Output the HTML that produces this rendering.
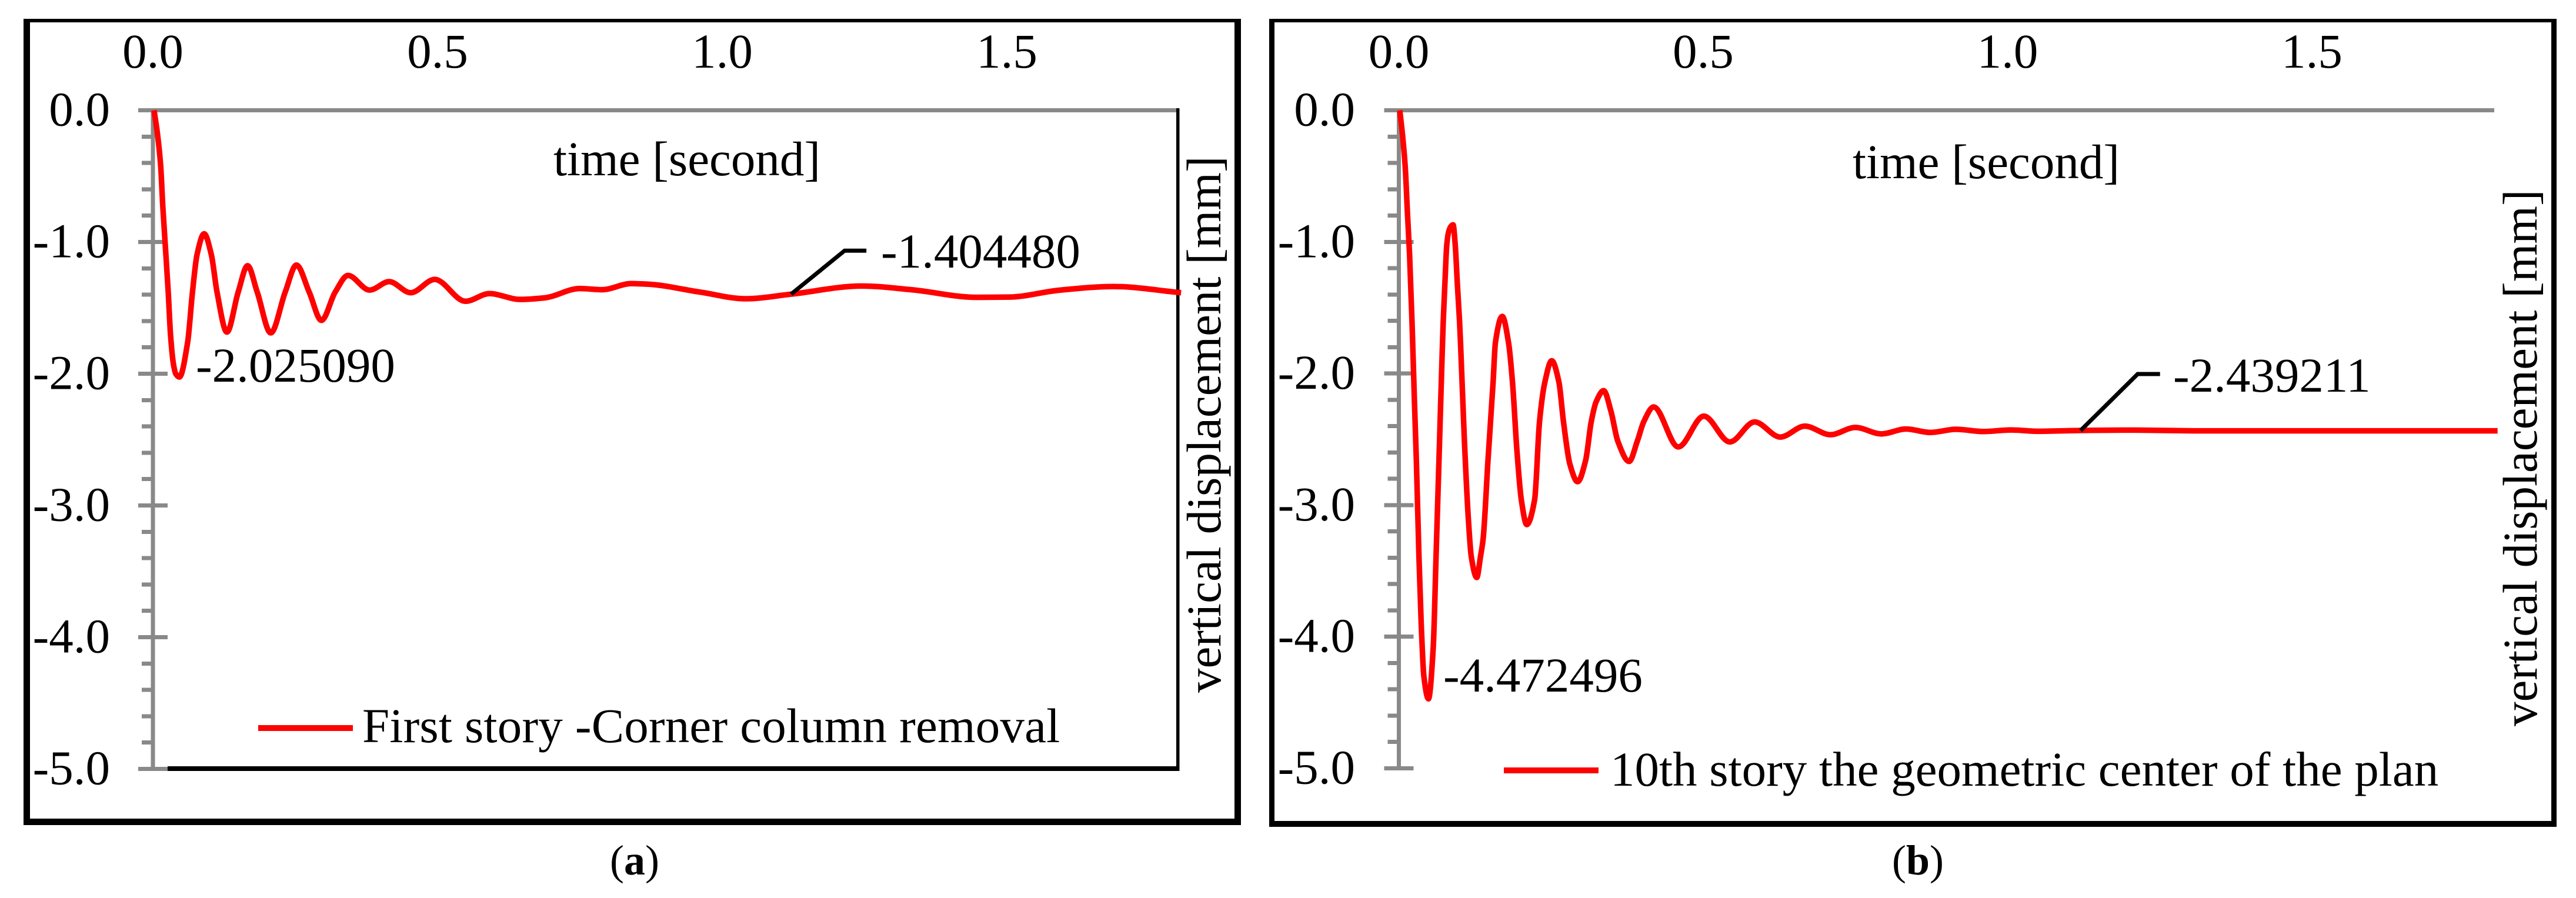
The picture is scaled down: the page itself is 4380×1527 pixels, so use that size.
<!DOCTYPE html>
<html lang="en">
<head>
<meta charset="utf-8">
<title>Vertical displacement time histories</title>
<style>
html,body{margin:0;padding:0;background:#fff;}
svg{display:block;}
text{font-family:"Liberation Serif",serif;fill:#000;font-size:83px;}
</style>
</head>
<body>
<svg id="figure" xmlns="http://www.w3.org/2000/svg" width="4380" height="1527" viewBox="0 0 4380 1527">
  <rect x="0" y="0" width="4380" height="1527" fill="#fff"/>

  <g id="panel-a">
    <g fill="#000" shape-rendering="crispEdges">
      <rect x="40" y="32" width="2070" height="6"/>
      <rect x="40" y="32" width="11" height="1371"/>
      <rect x="2099" y="32" width="11" height="1371"/>
      <rect x="40" y="1392" width="2070" height="11"/>
    </g>
    <g id="axes-a"></g>
    <g id="plot-a"></g>
    <text x="941" y="298">time [second]</text>
    <text transform="translate(2075 1178) rotate(-90)" x="0" y="0">vertical displacement [mm]</text>
    <text x="333" y="649">-2.025090</text>
    <text x="1498" y="455">-1.404480</text>
    <rect x="439" y="1233" width="161" height="10" fill="#ff0000"/>
    <text x="616" y="1262" style="letter-spacing:0.18px">First story -Corner column removal</text>
    <text x="1037" y="1487" font-size="72" style="font-size:72px">(<tspan font-weight="bold">a</tspan>)</text>
  </g>

  <g id="panel-b">
    <g fill="#000" shape-rendering="crispEdges">
      <rect x="2158" y="32" width="2189" height="6"/>
      <rect x="2158" y="32" width="9" height="1374"/>
      <rect x="4338" y="32" width="9" height="1374"/>
      <rect x="2158" y="1396" width="2189" height="10"/>
    </g>
    <g id="axes-b"></g>
    <g id="plot-b"></g>
    <text x="3150" y="303">time [second]</text>
    <text transform="translate(4313 1235) rotate(-90)" x="0" y="0">vertical displacement [mm]</text>
    <text x="2454" y="1176">-4.472496</text>
    <text x="3695" y="666">-2.439211</text>
    <rect x="2557" y="1305" width="161" height="10" fill="#ff0000"/>
    <text x="2738" y="1336">10th story the geometric center of the plan</text>
    <text x="3217" y="1487" font-size="72" style="font-size:72px">(<tspan font-weight="bold">b</tspan>)</text>
  </g>
</svg>

<script>
// ---- chart data ----
const xTickValues = [0, 0.5, 1.0, 1.5];
const xTickLabels = ["0.0", "0.5", "1.0", "1.5"];
const yTickValues = [0, -1, -2, -3, -4, -5];
const yTickLabels = ["0.0", "-1.0", "-2.0", "-3.0", "-4.0", "-5.0"];
const yMinorPerMajor = 5;

const timeA = [0.002,0.0083,0.0137,0.0173,0.0217,0.0269,0.031,0.0362,0.0403,0.0465,0.061,0.0695,0.0775,0.090,0.1026,0.1126,0.130,0.1498,0.1663,0.1832,0.207,0.2324,0.2521,0.2745,0.296,0.3202,0.3427,0.3805,0.415,0.4528,0.495,0.549,0.591,0.645,0.688,0.750,0.789,0.840,0.868,0.962,1.041,1.121,1.245,1.332,1.447,1.505,1.592,1.687,1.806];
const displacementA = [0,-0.19,-0.426,-0.725,-1.023,-1.38,-1.708,-1.931,-2.002,-2.025,-1.761,-1.38,-1.096,-0.9375,-1.096,-1.38,-1.684,-1.38,-1.18,-1.38,-1.69,-1.38,-1.175,-1.38,-1.595,-1.38,-1.254,-1.365,-1.301,-1.385,-1.284,-1.45,-1.392,-1.436,-1.424,-1.353,-1.362,-1.316,-1.32,-1.381,-1.431,-1.396,-1.334,-1.362,-1.42,-1.418,-1.366,-1.338,-1.385];
const calloutTimeA = 1.121;
const calloutValueA = -1.396;

const timeB = [0.0015,0.0063,0.0104,0.0143,0.0176,0.0217,0.0256,0.0288,0.033,0.0367,0.0411,0.0486,0.0565,0.0611,0.0659,0.0707,0.0729,0.0756,0.0787,0.0816,0.0855,0.0891,0.0926,0.0961,0.0997,0.1013,0.1077,0.1142,0.119,0.128,0.1341,0.1384,0.1464,0.1548,0.1586,0.1699,0.1802,0.1867,0.194,0.2012,0.2101,0.223,0.2311,0.2398,0.2511,0.263,0.2704,0.281,0.2936,0.3068,0.3161,0.3242,0.3364,0.3486,0.3596,0.3783,0.3918,0.4024,0.4186,0.459,0.501,0.5438,0.5844,0.6266,0.667,0.709,0.75,0.7925,0.833,0.8733,0.915,0.9604,1.0054,1.0507,1.12,1.19,1.3295,1.538,1.805];
const displacementB = [0,-0.203,-0.427,-0.80,-1.097,-1.62,-2.214,-2.67,-3.392,-3.899,-4.301,-4.472,-4.078,-3.392,-2.66,-1.917,-1.605,-1.32,-1.024,-0.927,-0.883,-0.87,-1.024,-1.32,-1.605,-1.767,-2.513,-3.108,-3.392,-3.55,-3.392,-3.258,-2.661,-2.067,-1.767,-1.566,-1.767,-2.067,-2.588,-2.96,-3.148,-2.96,-2.365,-2.067,-1.903,-2.067,-2.365,-2.69,-2.822,-2.661,-2.365,-2.214,-2.13,-2.29,-2.513,-2.668,-2.513,-2.365,-2.254,-2.558,-2.324,-2.52,-2.368,-2.483,-2.40,-2.465,-2.41,-2.459,-2.422,-2.448,-2.424,-2.441,-2.429,-2.439,-2.433,-2.43,-2.436,-2.436,-2.436];
const calloutTimeB = 1.12;
const calloutValueB = -2.433;

// ---- drawing ----
const NS = 'http://www.w3.org/2000/svg';
function make(tag, attrs, parent) {
  const el = document.createElementNS(NS, tag);
  Object.keys(attrs).forEach(function (k) { el.setAttribute(k, attrs[k]); });
  parent.appendChild(el);
  return el;
}

function monotonePath(xs, ys) {
  const n = xs.length, d = [], m = [];
  for (let i = 0; i < n - 1; i++) d.push((ys[i + 1] - ys[i]) / (xs[i + 1] - xs[i]));
  m.push(d[0]);
  for (let i = 1; i < n - 1; i++) {
    if (d[i - 1] * d[i] <= 0) { m.push(0); continue; }
    const h0 = xs[i] - xs[i - 1], h1 = xs[i + 1] - xs[i];
    m.push(3 * (h0 + h1) / ((2 * h1 + h0) / d[i - 1] + (h1 + 2 * h0) / d[i]));
  }
  m.push(d[n - 2]);
  let p = 'M' + xs[0].toFixed(2) + ' ' + ys[0].toFixed(2);
  for (let i = 0; i < n - 1; i++) {
    const h = (xs[i + 1] - xs[i]) / 3;
    p += 'C' + (xs[i] + h).toFixed(2) + ' ' + (ys[i] + m[i] * h).toFixed(2) + ' ' +
         (xs[i + 1] - h).toFixed(2) + ' ' + (ys[i + 1] - m[i + 1] * h).toFixed(2) + ' ' +
         xs[i + 1].toFixed(2) + ' ' + ys[i + 1].toFixed(2);
  }
  return p;
}

function drawAxes(axes, xScale, yScale, xEnd, labelRight) {
  const gray = '#898989';
  const yAxis = make('rect', {x: xScale(0) - 3.5, y: yScale(0) - 3.5, width: 7, height: yScale(-5) - yScale(0) + 7, fill: gray, 'shape-rendering': 'crispEdges'}, axes);
  
  
  const xAxis = make('rect', {x: xScale(0) - 25, y: yScale(0) - 3.5, width: xEnd - xScale(0) + 25, height: 7, fill: gray, 'shape-rendering': 'crispEdges'}, axes);
  
  

  yTickValues.forEach(function (v, i) {
    const tick = make('rect', {x: xScale(0) - 25, y: yScale(v) - 3.5, width: 50, height: 7, fill: gray, 'shape-rendering': 'crispEdges'}, axes);
    
    
    const label = make('text', {x: labelRight, y: yScale(v) + 26, 'text-anchor': 'end'}, axes);
    
    
    label.textContent = yTickLabels[i];
    if (i < yTickValues.length - 1) {
      const step = (yTickValues[i + 1] - v) / yMinorPerMajor;
      for (let k = 1; k < yMinorPerMajor; k++) {
        const minor = make('rect', {x: xScale(0) - 19, y: yScale(v + step * k) - 3.5, width: 19, height: 7, fill: gray, 'shape-rendering': 'crispEdges'}, axes);
        
        
      }
    }
  });

  xTickValues.forEach(function (t, i) {
    const label = make('text', {x: xScale(t), y: 115, 'text-anchor': 'middle'}, axes);
    
    
    label.textContent = xTickLabels[i];
  });
}

function drawSeries(plot, times, values, xScale, yScale) {
  const d = monotonePath(times.map(xScale), values.map(yScale));
  const line = make('path', {d: d, fill: 'none', stroke: '#ff0000', 'stroke-width': 9.5, 'stroke-linejoin': 'round', 'stroke-linecap': 'butt'}, plot);
  
  
}

function drawLeader(plot, sx, sy, dx, dy, run) {
  const leader = make('polyline', {points: sx + ',' + sy + ' ' + (sx + dx) + ',' + (sy - dy) + ' ' + (sx + dx + run) + ',' + (sy - dy), fill: 'none', stroke: '#000', 'stroke-width': 7}, plot);
  
  
}

// Panel (a)
const xScaleA = function (t) { return 260 + t * 968; };
const yScaleA = function (v) { return 187.5 - v * 224; };
const axesA = document.getElementById('axes-a');
const plotA = document.getElementById('plot-a');
drawAxes(axesA, xScaleA, yScaleA, 2003, 187);
const blackRight = make('rect', {x: 2000, y: 184, width: 5.5, height: 1127, fill: '#000', 'shape-rendering': 'crispEdges'}, axesA);


const blackBottom = make('rect', {x: 285, y: 1303, width: 1720, height: 8, fill: '#000', 'shape-rendering': 'crispEdges'}, axesA);


drawSeries(plotA, timeA, displacementA, xScaleA, yScaleA);
drawLeader(plotA, xScaleA(calloutTimeA), yScaleA(calloutValueA), 91, 74, 37);

// Panel (b)
const xScaleB = function (t) { return 2378.5 + t * 1035; };
const yScaleB = function (v) { return 187.5 - v * 223.8; };
const axesB = document.getElementById('axes-b');
const plotB = document.getElementById('plot-b');
drawAxes(axesB, xScaleB, yScaleB, 4241, 2304);
drawSeries(plotB, timeB, displacementB, xScaleB, yScaleB);
drawLeader(plotB, xScaleB(calloutTimeB), yScaleB(calloutValueB), 97, 96, 38);
</script>
</body>
</html>
